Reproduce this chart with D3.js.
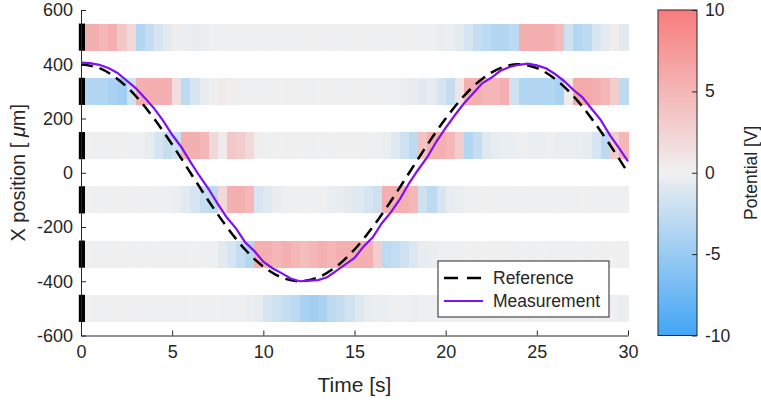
<!DOCTYPE html>
<html>
<head>
<meta charset="utf-8">
<script src="https://cdn.jsdelivr.net/npm/d3@7"></script>
<style>
  body { margin: 0; background: #fff; }
  svg text { font-family: "Liberation Sans", Arial, sans-serif; fill: #262626; }
</style>
</head>
<body>
<svg id="chart" width="761" height="402"></svg>
<script>
// electrode strips (center position in um), potential sampled every 0.5 s
var stripCenters = [500, 300, 100, -100, -300, -500];
var stripHalf = 50;
var binWidth = 0.5;

var pot500 = [5.5, 5.5, 5, 5.5, 3.5, 2, -3.5, -2.5, -1.5, -0.8,
  0.3, -0.3, -0.4, -0.3, -0.2, -0.1, 0, -0.1, 0, -0.1,
  0, -0.1, 0, -0.1, 0, 0, -0.1, 0, -0.1, 0,
  0, -0.1, 0, -0.1, 0, 0, -0.1, -0.1, -0.2, -0.4,
  -0.3, -0.8, -1.5, -2.5, -3, -3.5, -3.5, -3, 5.5, 5.5,
  5.5, 5.5, 4.5, -2, -3.5, -3, -1.5, -0.7, 0.3, -0.8];
var pot300 = [-3.5, -3.5, -3.5, -4, -4.5, -2, 5.5, 5.5, 5.5, 5.5,
  1.5, -3, -1.5, -0.6, 0.2, 0.5, 0.3, -0.1, 0, -0.1,
  0, 0, -0.1, 0, 0, -0.1, 0, 0, -0.1, 0,
  0, -0.1, 0, -0.1, -0.2, -0.3, -0.4, -0.8, -0.5, -1.5,
  -2.5, 1, 5.5, 5.5, 5, 5, 5.5, -2, -3.5, -3.5,
  -3.5, -3.5, -4, 0.5, 6, 6, 5.5, 5, 3, -3];
var pot100 = [0, -0.1, 0, -0.1, 0, -0.1, -0.2, -0.5, -1.5, -2.5,
  -2, 5.5, 5.5, 5, 2, 0.5, 3.5, 3, 2, 0.3,
  -0.1, 0, -0.1, 0, 0, -0.1, 0, -0.1, 0, 0,
  0, -0.1, -0.1, -0.3, -1, -2, -3, 4, 5.5, 5.5,
  5, 3, -3.5, -2.5, -1, -0.5, -0.3, -0.3, -0.2, -0.3,
  -0.3, -0.2, -0.3, -0.3, -0.3, -0.6, -1.5, -3, 3, 5];
var potM100 = [0, -0.1, 0, -0.1, 0, -0.1, 0, -0.1, -0.2, -0.2,
  -0.3, -0.8, -1.5, -2.5, -3, 2, 5.5, 5.5, 5, -1.5,
  -1, -0.4, -0.2, -0.1, 0, -0.1, -0.2, -0.3, -0.4, -0.8,
  -1, -1.5, -2, 5.5, 5.5, 5.5, 5, -2, -3, -1.5,
  -0.6, -0.3, -0.2, -0.1, 0, -0.1, -0.2, -0.1, 0, -0.1,
  -0.2, -0.1, 0, -0.2, -0.1, 0, -0.1, -0.2, -0.1, -0.2];
var potM300 = [0, -0.1, 0, -0.1, 0, -0.1, 0, -0.1, 0, -0.1,
  0, -0.1, 0, -0.1, -0.1, -0.8, -1.5, -2.5, -3.5, 5.5,
  5.5, 5, 5.5, 5, 4.5, 5, 5.5, 5, 5.5, 5.5,
  5.5, 5.5, 3, -3, -2.5, -2, -1.2, -0.6, -0.3, -0.2,
  -0.2, -0.1, 0, -0.1, 0, -0.1, 0, -0.1, 0, -0.1,
  0, -0.1, 0, -0.1, 0, -0.1, 0, -0.1, 0, -0.1];
var potM500 = [0, -0.1, 0, -0.1, 0, -0.1, 0, -0.1, 0, -0.1,
  0, -0.1, 0, -0.1, 0, -0.1, -0.1, -0.2, -0.3, -0.5,
  -1.5, -2, -2.5, -3, -4, -4.5, -4, -3, -2.5, -1.8,
  -1, -0.5, -0.3, -0.3, -0.2, -0.2, -0.3, -0.2, -0.1, -0.2,
  -0.1, -0.2, -0.1, -0.1, -0.2, -0.1, -0.1, -0.2, -0.1, -0.1,
  -0.2, -0.1, -0.1, -0.2, -0.1, -0.1, -0.2, -0.1, -0.2, -0.3];
var potentials = [pot500, pot300, pot100, potM100, potM300, potM500];

// reference trajectory, 1 s steps
var refTime = [0, 1, 2, 3, 4, 5, 6, 7, 8, 9, 10, 11, 12, 13, 14, 15,
  16, 17, 18, 19, 20, 21, 22, 23, 24, 25, 26, 27, 28, 29, 30];
var refPos = [400, 386, 346, 283, 200, 104, 0, -104, -200, -283, -346, -386, -400, -386, -346, -283,
  -200, -104, 0, 104, 200, 283, 346, 386, 400, 386, 346, 283, 200, 104, 0];

// measured trajectory, 0.5 s steps
var measTime = [0, 0.5, 1, 1.5, 2, 2.5, 3, 3.5, 4, 4.5, 5, 5.5, 6, 6.5, 7, 7.5, 8, 8.5, 9, 9.5,
  10, 10.5, 11, 11.5, 12, 12.5, 13, 13.5, 14, 14.5, 15, 15.5, 16, 16.5, 17, 17.5, 18, 18.5, 19, 19.5,
  20, 20.5, 21, 21.5, 22, 22.5, 23, 23.5, 24, 24.5, 25, 25.5, 26, 26.5, 27, 27.5, 28, 28.5, 29, 29.5, 30];
var measPos = [406, 404, 398, 386, 368, 340, 312, 276, 238, 192, 140, 95, 40, -12, -60, -115, -165, -205, -256, -288,
  -328, -352, -370, -390, -400, -398, -396, -385, -362, -338, -314, -272, -238, -186, -145, -96, -38, 12, 58, 116,
  165, 212, 255, 292, 330, 350, 376, 390, 398, 402, 396, 385, 364, 338, 306, 278, 236, 195, 140, 92, 42];

var xTicks = [0, 5, 10, 15, 20, 25, 30];
var yTicks = [-600, -400, -200, 0, 200, 400, 600];
var cbarTicks = [-10, -5, 0, 5, 10];

var svg = d3.select("#chart");
var plotL = 81, plotR = 628, plotT = 10, plotB = 335.5;
var plain = function(d) { return String(d); };  // keep ASCII hyphen for negatives

var x = d3.scaleLinear().domain([0, 30]).range([plotL, plotR]);
var y = d3.scaleLinear().domain([-600, 600]).range([plotB, plotT]);
var color = d3.scaleLinear().domain([-10, 0, 10])
  .range(["#42a5f5", "#f0f0f0", "#f87c7c"]);

// heat strips
var cells = [];
stripCenters.forEach(function(c, s) {
  potentials[s].forEach(function(v, i) {
    cells.push({c: c, t0: i * binWidth, v: v});
  });
});
svg.append("g").selectAll("rect")
  .data(cells)
  .enter()
  .append("rect")
  .attr("x", function(d) { return x(d.t0); })
  .attr("width", function(d) { return x(d.t0 + binWidth) - x(d.t0) + 0.5; })
  .attr("y", function(d) { return y(d.c + stripHalf); })
  .attr("height", function(d) { return y(d.c - stripHalf) - y(d.c + stripHalf); })
  .attr("fill", function(d) { return color(d.v); })
  .attr("shape-rendering", "crispEdges");

// electrode markers
svg.append("g").selectAll("rect")
  .data(stripCenters)
  .enter()
  .append("rect")
  .attr("x", x(-0.12))
  .attr("width", x(0.22) - x(-0.12))
  .attr("y", function(d) { return y(d + stripHalf); })
  .attr("height", function(d) { return y(d - stripHalf) - y(d + stripHalf); })
  .attr("fill", "#000");

// axes
var xAxis = svg.append("g")
  .attr("transform", "translate(0," + plotB + ")")
  .call(d3.axisBottom(x).tickValues(xTicks).tickFormat(plain)
    .tickSizeInner(-5).tickSizeOuter(0).tickPadding(10));
var yAxis = svg.append("g")
  .attr("transform", "translate(" + plotL + ",0)")
  .call(d3.axisLeft(y).tickValues(yTicks).tickFormat(plain)
    .tickSizeInner(-5).tickSizeOuter(0).tickPadding(8));
[xAxis, yAxis].forEach(function(a) {
  a.selectAll("path, line").attr("stroke", "#262626");
  a.selectAll("text").style("font-size", "18px").attr("fill", "#262626");
});

// lines
var refLine = d3.line()
  .x(function(d) { return x(d[0]); })
  .y(function(d) { return y(d[1]); })
  .curve(d3.curveCatmullRom);
svg.append("path")
  .datum(d3.zip(refTime, refPos))
  .attr("d", refLine)
  .attr("fill", "none")
  .attr("stroke", "#000")
  .attr("stroke-width", 2.5)
  .attr("stroke-dasharray", "12,7");

var measLine = d3.line()
  .x(function(d) { return x(d[0]); })
  .y(function(d) { return y(d[1]); });
svg.append("path")
  .datum(d3.zip(measTime, measPos))
  .attr("d", measLine)
  .attr("fill", "none")
  .attr("stroke", "#8010f0")
  .attr("stroke-width", 2.2);

// axis labels
svg.append("text")
  .attr("x", (plotL + plotR) / 2)
  .attr("y", 392)
  .attr("text-anchor", "middle")
  .style("font-size", "21px")
  .text("Time [s]");
var yl = svg.append("text")
  .attr("transform", "translate(25," + ((plotT + plotB) / 2) + ") rotate(-90)")
  .attr("text-anchor", "middle")
  .style("font-size", "20px");
yl.append("tspan").text("X position [ ");
yl.append("tspan").style("font-style", "italic").text("\u03bc");
yl.append("tspan").text("m]");

// legend
var lg = svg.append("g");
lg.append("rect")
  .attr("x", 438).attr("y", 261)
  .attr("width", 171).attr("height", 56)
  .attr("fill", "#fff").attr("stroke", "#262626").attr("stroke-width", 1);
var legendItems = [
  {name: "Reference", stroke: "#000", dash: "14,9", w: 2.5},
  {name: "Measurement", stroke: "#8010f0", dash: null, w: 2.2}
];
legendItems.forEach(function(d, i) {
  var ly = 278 + i * 23;
  lg.append("line")
    .attr("x1", 444).attr("x2", 483)
    .attr("y1", ly).attr("y2", ly)
    .attr("stroke", d.stroke).attr("stroke-width", d.w)
    .attr("stroke-dasharray", d.dash);
  lg.append("text")
    .attr("x", 493).attr("y", ly + 6)
    .style("font-size", "17.5px")
    .text(d.name);
});

// colorbar
var cbX = 658, cbW = 39;
var cy = d3.scaleLinear().domain([-10, 10]).range([plotB, plotT]);
var grad = svg.append("defs").append("linearGradient")
  .attr("id", "cbgrad")
  .attr("x1", 0).attr("y1", 1).attr("x2", 0).attr("y2", 0);
[-10, 0, 10].forEach(function(v) {
  grad.append("stop")
    .attr("offset", (v + 10) / 20)
    .attr("stop-color", color(v));
});
svg.append("rect")
  .attr("x", cbX).attr("y", plotT)
  .attr("width", cbW).attr("height", plotB - plotT)
  .attr("fill", "url(#cbgrad)")
  .attr("stroke", "#262626").attr("stroke-width", 1);
var cAxis = svg.append("g")
  .attr("transform", "translate(" + (cbX + cbW) + ",0)")
  .call(d3.axisRight(cy).tickValues(cbarTicks).tickFormat(plain)
    .tickSizeInner(-5).tickSizeOuter(0).tickPadding(8));
cAxis.select(".domain").remove();
cAxis.selectAll("line").attr("stroke", "#262626");
cAxis.selectAll("text").style("font-size", "17.5px").attr("fill", "#262626");

svg.append("text")
  .attr("transform", "translate(757," + ((plotT + plotB) / 2) + ") rotate(-90)")
  .attr("text-anchor", "middle")
  .style("font-size", "17.5px")
  .text("Potential [V]");
</script>
</body>
</html>
